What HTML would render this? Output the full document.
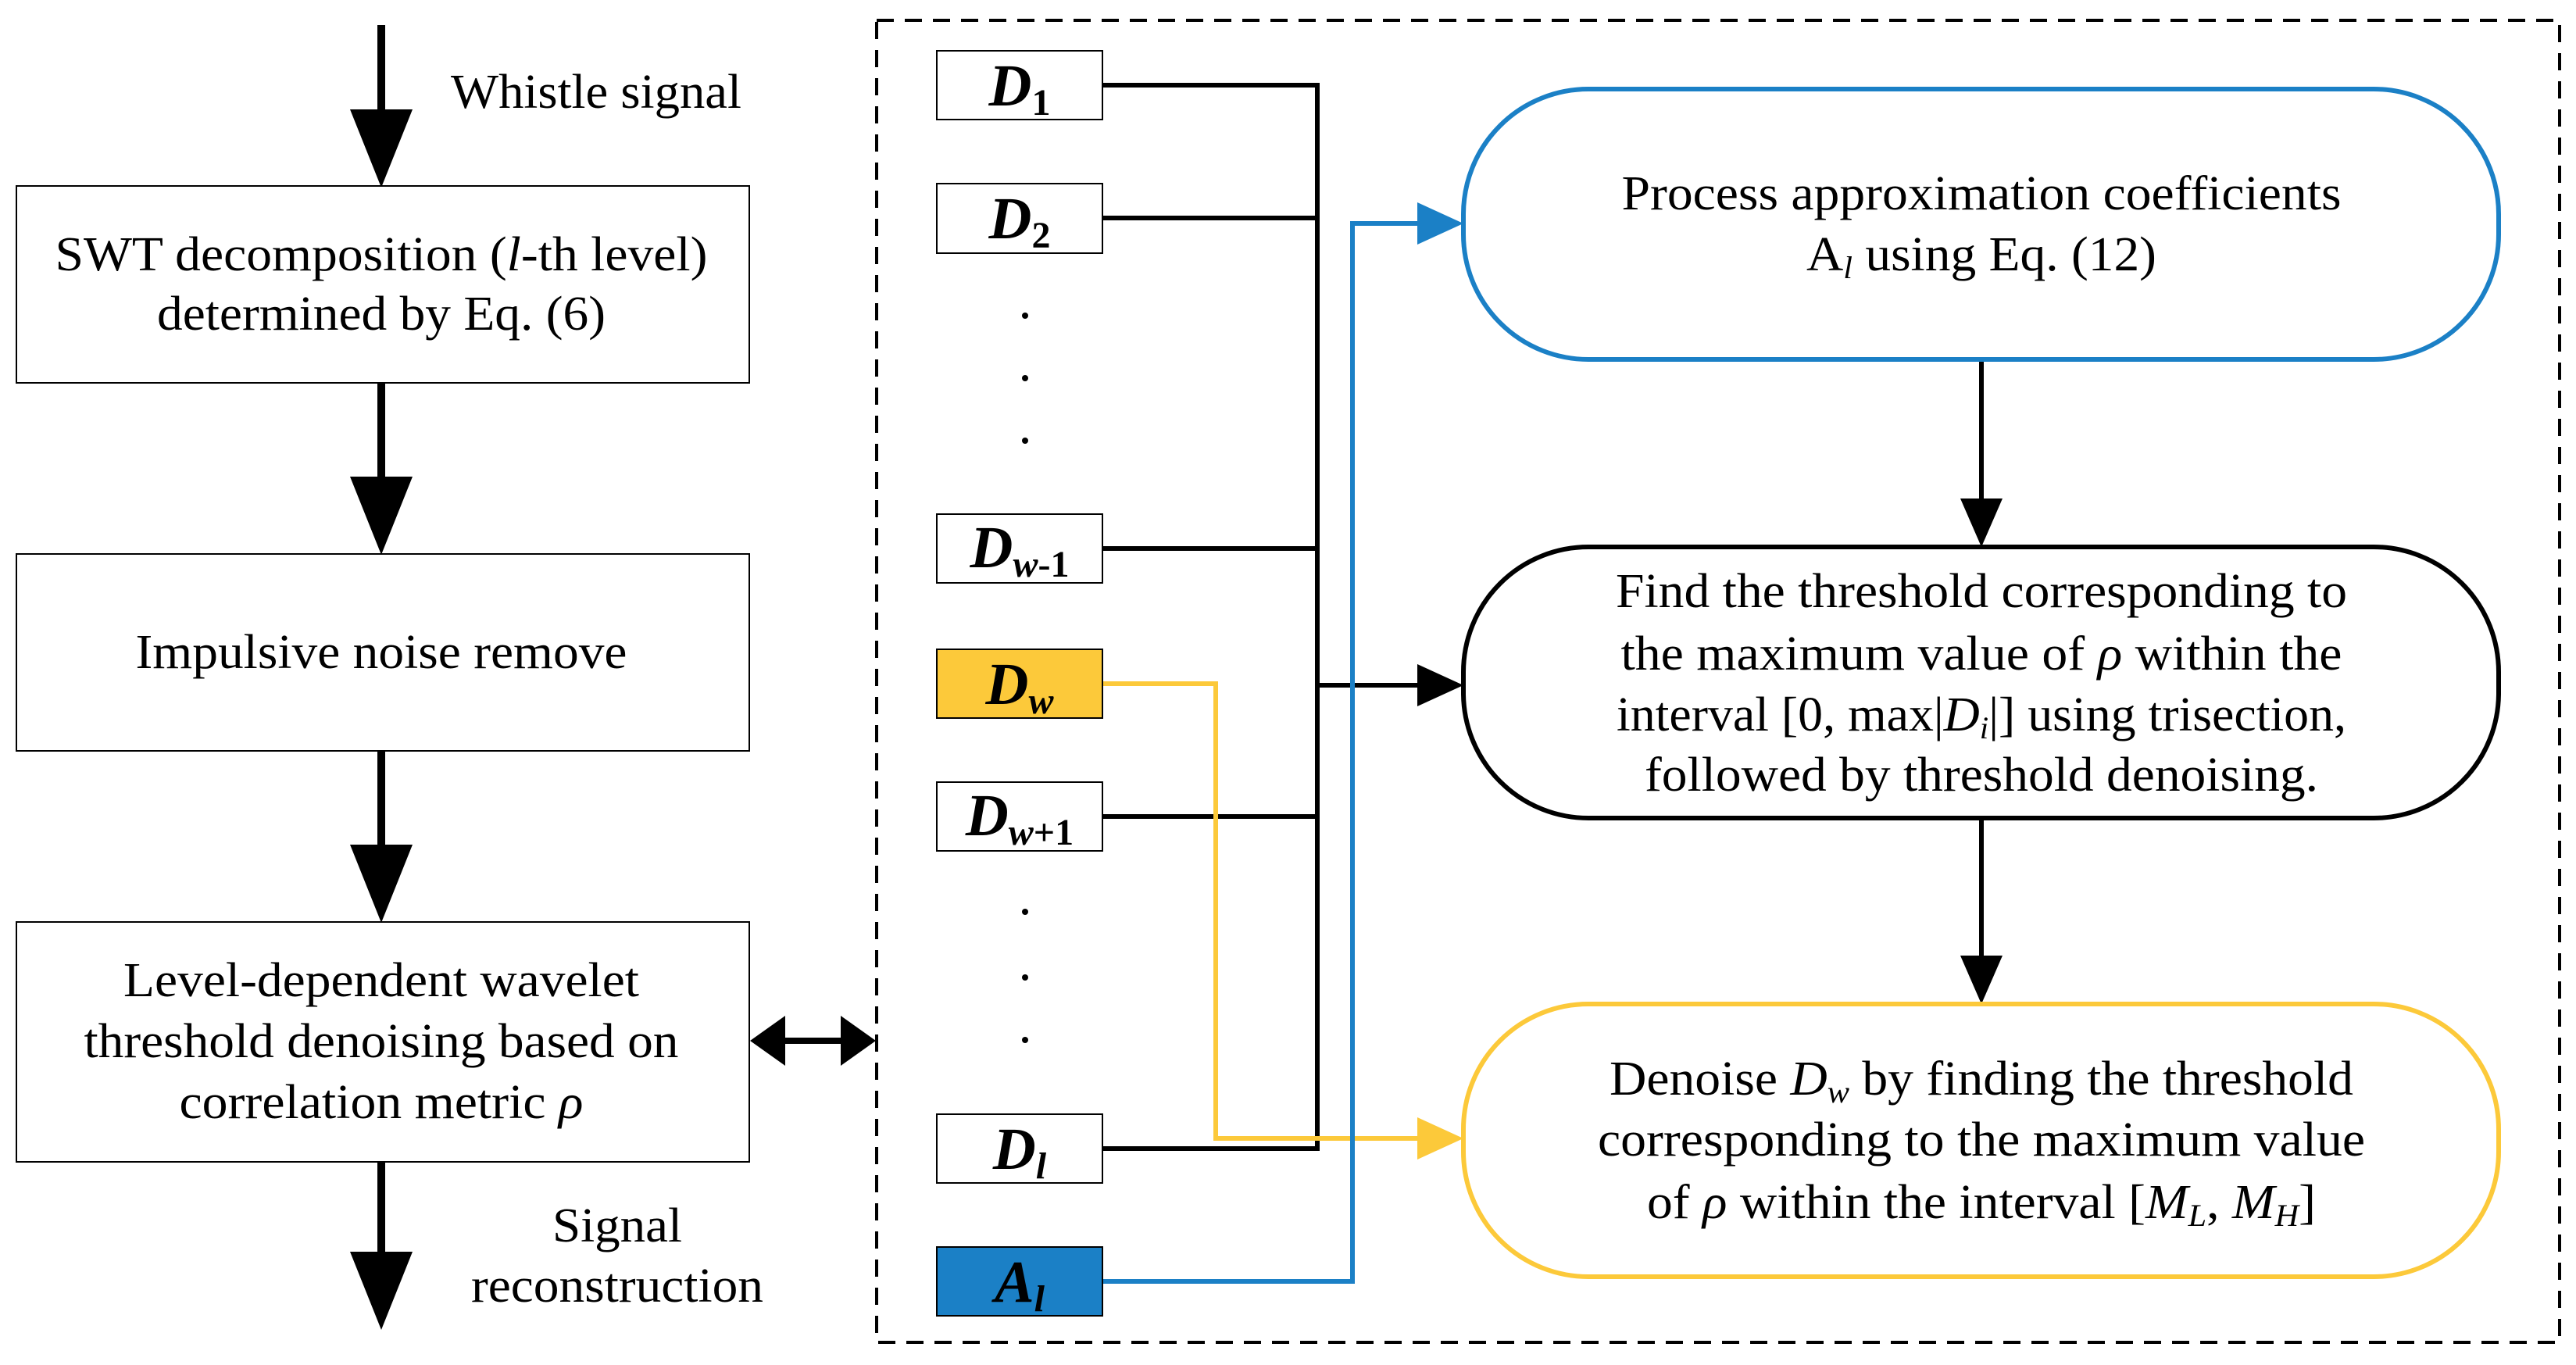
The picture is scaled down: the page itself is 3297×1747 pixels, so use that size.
<!DOCTYPE html>
<html><head><meta charset="utf-8"><style>html,body{margin:0;padding:0;background:#fff}svg{display:block}text{font-family:"Liberation Serif",serif;fill:#000}</style></head>
<body>
<svg width="3297" height="1747" viewBox="0 0 3297 1747" xmlns="http://www.w3.org/2000/svg">
<!-- left column arrows -->
<g fill="#000">
<rect x="483" y="32" width="10" height="120"/><path d="M448,140 L528,140 L488,240 z"/>
<rect x="483" y="490" width="10" height="130"/><path d="M448,610 L528,610 L488,710 z"/>
<rect x="483" y="961" width="10" height="130"/><path d="M448,1081 L528,1081 L488,1181 z"/>
<rect x="483" y="1487" width="10" height="125"/><path d="M448,1602 L528,1602 L488,1702 z"/>
<!-- double arrow -->
<rect x="990" y="1328" width="100" height="8"/><path d="M960,1332 L1005,1300 L1005,1364 z"/><path d="M1121,1332 L1076,1300 L1076,1364 z"/>
</g>
<g fill="#fff" stroke="#000" stroke-width="2">
<rect x="21" y="238" width="938" height="252"/>
<rect x="21" y="709" width="938" height="252"/>
<rect x="21" y="1180" width="938" height="307"/>
</g>
<g font-size="62" text-anchor="middle">
<text x="763" y="138" textLength="372" lengthAdjust="spacingAndGlyphs">Whistle signal</text>
<text x="488" y="346" textLength="835" lengthAdjust="spacingAndGlyphs">SWT decomposition (<tspan font-style="italic">l</tspan>-th level)</text>
<text x="488" y="422" textLength="574" lengthAdjust="spacingAndGlyphs">determined by Eq. (6)</text>
<text x="488" y="855" textLength="629" lengthAdjust="spacingAndGlyphs">Impulsive noise remove</text>
<text x="488" y="1275" textLength="660" lengthAdjust="spacingAndGlyphs">Level-dependent wavelet</text>
<text x="488" y="1353" textLength="761" lengthAdjust="spacingAndGlyphs">threshold denoising based on</text>
<text x="488" y="1431" textLength="517" lengthAdjust="spacingAndGlyphs">correlation metric <tspan font-style="italic">ρ</tspan></text>
<text x="790" y="1589" textLength="166" lengthAdjust="spacingAndGlyphs">Signal</text>
<text x="790" y="1666" textLength="374" lengthAdjust="spacingAndGlyphs">reconstruction</text>
</g>
<!-- dashed container -->
<rect x="1122" y="26" width="2154" height="1692" fill="#fff" stroke="#000" stroke-width="4" stroke-dasharray="22,14"/>
<!-- bus -->
<g stroke="#000" stroke-width="6" fill="none">
<path d="M1411,109 H1686 V1470 H1411"/>
<path d="M1411,279 H1686"/><path d="M1411,702 H1686"/><path d="M1411,1045 H1686"/>
<path d="M1686,877 H1820"/>
<path d="M2536,460 V640"/><path d="M2536,1047 V1225"/>
</g>
<g fill="#000">
<path d="M1814,850 L1873,877 L1814,904 z"/>
<path d="M2509,638 L2563,638 L2536,700 z"/>
<path d="M2509,1223 L2563,1223 L2536,1285 z"/>
</g>
<!-- yellow -->
<path d="M1411,875 H1556 V1457 H1820" stroke="#fcc93a" stroke-width="6" fill="none"/>
<path d="M1814,1430 L1873,1457 L1814,1484 z" fill="#fcc93a"/>
<!-- blue -->
<path d="M1411,1640 H1731 V286 H1820" stroke="#1b80c6" stroke-width="6" fill="none"/>
<path d="M1814,259 L1873,286 L1814,313 z" fill="#1b80c6"/>
<!-- D boxes -->
<g stroke="#000" stroke-width="2">
<rect x="1199" y="65" width="212" height="88" fill="#fff"/>
<rect x="1199" y="235" width="212" height="89" fill="#fff"/>
<rect x="1199" y="658" width="212" height="88" fill="#fff"/>
<rect x="1199" y="831" width="212" height="88" fill="#fcc93a"/>
<rect x="1199" y="1001" width="212" height="88" fill="#fff"/>
<rect x="1199" y="1426" width="212" height="88" fill="#fff"/>
<rect x="1199" y="1596" width="212" height="88" fill="#1b80c6"/>
</g>
<g font-size="76" font-weight="bold" font-style="italic" text-anchor="middle">
<text x="1305" y="135">D<tspan font-size="48" font-style="normal" dy="12">1</tspan></text>
<text x="1305" y="305">D<tspan font-size="48" font-style="normal" dy="12">2</tspan></text>
<text x="1305" y="726">D<tspan font-size="48" dy="12">w</tspan><tspan font-size="48" font-style="normal">-1</tspan></text>
<text x="1305" y="901">D<tspan font-size="48" dy="12">w</tspan></text>
<text x="1305" y="1069">D<tspan font-size="48" dy="12">w</tspan><tspan font-size="48" font-style="normal">+1</tspan></text>
<text x="1305" y="1496">D<tspan font-size="48" dy="12">l</tspan></text>
<text x="1305" y="1666">A<tspan font-size="48" dy="12">l</tspan></text>
</g>
<g fill="#000">
<circle cx="1312" cy="404" r="4"/><circle cx="1312" cy="484" r="4"/><circle cx="1312" cy="564" r="4"/>
<circle cx="1312" cy="1167" r="4"/><circle cx="1312" cy="1251" r="4"/><circle cx="1312" cy="1331" r="4"/>
</g>
<!-- rounded boxes -->
<rect x="1873" y="114" width="1325" height="346" rx="160" fill="none" stroke="#1b80c6" stroke-width="6"/>
<rect x="1873" y="700" width="1325" height="347" rx="160" fill="none" stroke="#000" stroke-width="6"/>
<rect x="1873" y="1285" width="1325" height="349" rx="160" fill="none" stroke="#fcc93a" stroke-width="6"/>
<g font-size="62" text-anchor="middle">
<text x="2536" y="268" textLength="921" lengthAdjust="spacingAndGlyphs">Process approximation coefficients</text>
<text x="2536" y="346" textLength="448" lengthAdjust="spacingAndGlyphs">A<tspan font-size="40" font-style="italic" dy="10">l</tspan><tspan dy="-10"> using Eq. (12)</tspan></text>
<text x="2536" y="777" textLength="936" lengthAdjust="spacingAndGlyphs">Find the threshold corresponding to</text>
<text x="2536" y="857" textLength="923" lengthAdjust="spacingAndGlyphs">the maximum value of <tspan font-style="italic">ρ</tspan> within the</text>
<text x="2536" y="935" textLength="934" lengthAdjust="spacingAndGlyphs">interval [0, max|<tspan font-style="italic">D</tspan><tspan font-size="40" font-style="italic" dy="10">i</tspan><tspan dy="-10">|] using trisection,</tspan></text>
<text x="2536" y="1012" textLength="862" lengthAdjust="spacingAndGlyphs">followed by threshold denoising.</text>
<text x="2536" y="1401" textLength="952" lengthAdjust="spacingAndGlyphs">Denoise <tspan font-style="italic">D</tspan><tspan font-size="40" font-style="italic" dy="10">w</tspan><tspan dy="-10"> by finding the threshold</tspan></text>
<text x="2536" y="1479" textLength="982" lengthAdjust="spacingAndGlyphs">corresponding to the maximum value</text>
<text x="2536" y="1559" textLength="856" lengthAdjust="spacingAndGlyphs">of <tspan font-style="italic">ρ</tspan> within the interval [<tspan font-style="italic">M</tspan><tspan font-size="40" font-style="italic" dy="10">L</tspan><tspan dy="-10">, </tspan><tspan font-style="italic">M</tspan><tspan font-size="40" font-style="italic" dy="10">H</tspan><tspan dy="-10">]</tspan></text>
</g>
</svg>
</body></html>
